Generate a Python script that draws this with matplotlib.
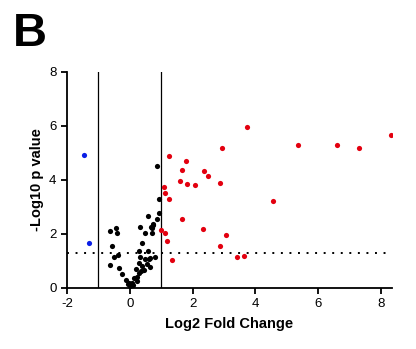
import matplotlib
matplotlib.use("Agg")
import matplotlib.pyplot as plt

plt.rcParams['font.family'] = ['Liberation Sans', 'DejaVu Sans']
plt.rcParams['axes.unicode_minus'] = False

# not significant (black)
ns_x = [0.87, 0.93, 0.93, 0.86, 0.57, 0.75, 0.70, 0.72, 0.49, 0.33, 0.39,
        -0.63, -0.45, -0.42, -0.58, -0.38, -0.51, -0.63, -0.34, -0.25,
        0.28, 0.57, 0.82, 0.32, 0.48, 0.61, 0.30, 0.55, 0.40, 0.64, 0.21,
        0.36, 0.45, 0.30, 0.22, 0.15, -0.11, -0.02, 0.06, 0.02, -0.06,
        0.11, 0.23, 0.74, 0.67, 0.64]
ns_y = [4.52, 3.31, 2.79, 2.57, 2.67, 2.32, 2.22, 2.02, 2.05, 2.27, 1.68,
        2.12, 2.21, 2.02, 1.54, 1.23, 1.14, 0.85, 0.74, 0.51,
        1.35, 1.38, 1.16, 1.16, 1.07, 1.06, 0.91, 0.89, 0.81, 0.79, 0.71,
        0.64, 0.67, 0.54, 0.42, 0.36, 0.30, 0.20, 0.17, 0.07, 0.15,
        0.10, 0.25, 2.36, 2.27, 1.10]

# up-regulated (red)
up_x = [3.74, 2.94, 1.25, 1.80, 1.66, 2.36, 2.48, 1.60, 1.09, 1.82, 2.07,
        2.89, 1.13, 1.25, 4.55, 1.66, 2.34, 1.01, 1.13, 3.05, 1.20, 2.89,
        3.41, 3.64, 1.33, 5.36, 6.59, 7.30, 8.31]
up_y = [5.97, 5.20, 4.90, 4.69, 4.37, 4.33, 4.16, 3.97, 3.75, 3.84, 3.81,
        3.88, 3.53, 3.30, 3.21, 2.56, 2.20, 2.15, 2.04, 1.96, 1.74, 1.57,
        1.16, 1.17, 1.02, 5.28, 5.28, 5.20, 5.68]

# down-regulated (blue)
down_x = [-1.46, -1.30]
down_y = [4.93, 1.68]

fc_cut = [-1, 1]
p_cut = 1.3

fig = plt.figure(figsize=(4.16, 3.49), dpi=100)
ax = fig.add_axes([0.161, 0.175, 0.781, 0.619])

ax.scatter(ns_x, ns_y, s=14, color='black', zorder=3, linewidths=0)
ax.scatter(up_x, up_y, s=14, color='#e3000f', zorder=3, linewidths=0)
ax.scatter(down_x, down_y, s=14, color='#0a1ee6', zorder=3, linewidths=0)

for v in fc_cut:
    ax.axvline(v, color='black', lw=0.9, zorder=2)
ax.plot([-2, 8.2], [p_cut, p_cut], color='black', lw=1.4,
        linestyle=(0, (1, 3.4)), zorder=2)

ax.set_xlim(-2, 8.35)
ax.set_ylim(0, 8)
ax.set_xticks([-2, 0, 2, 4, 6, 8])
ax.set_yticks([0, 2, 4, 6, 8])
ax.spines['top'].set_visible(False)
ax.spines['right'].set_visible(False)
for s in ['left', 'bottom']:
    ax.spines[s].set_linewidth(1.3)
ax.tick_params(width=1.3, length=4.5, labelsize=9.5, pad=3)

ax.set_xlabel('Log2 Fold Change', fontsize=10.5, fontweight='bold', labelpad=5)
ax.set_ylabel('-Log10 p value', fontsize=10.5, fontweight='bold', labelpad=4)

fig.text(0.03, 0.965, 'B', fontsize=34, fontweight='bold', va='top', ha='left')

fig.savefig('out.png', dpi=100)
